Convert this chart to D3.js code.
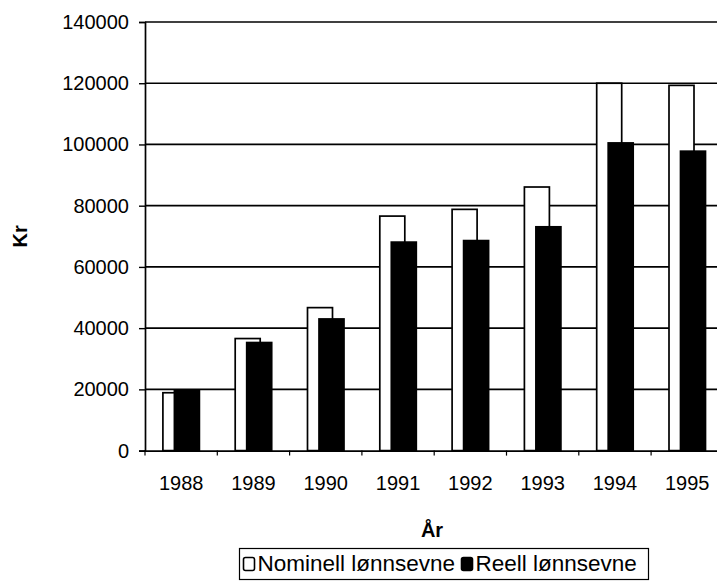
<!DOCTYPE html>
<html><head><meta charset="utf-8">
<script src="https://cdn.jsdelivr.net/npm/d3@7"></script>
<style>
html,body{margin:0;padding:0;background:#fff;}
svg{display:block;font-family:Arial,"Liberation Sans",sans-serif;}
</style></head>
<body><svg id="c" width="717" height="584"></svg>
<script>
const years = ["1988","1989","1990","1991","1992","1993","1994","1995"];
const nominell = [18900, 36600, 46700, 76600, 78800, 86100, 120000, 119300];
const reell = [19600, 35300, 43000, 68100, 68600, 73100, 100500, 97800];
const yTicks = [0,20000,40000,60000,80000,100000,120000,140000];
const seriesNames = ["Nominell lønnsevne","Reell lønnsevne"];

const svg = d3.select("#c");
const plotLeft = 145, plotTop = 22, plotBottom = 450.6, band = 72.3;
const FONT = "Arial,'Liberation Sans',sans-serif";
const x = d3.scaleBand().domain(years).range([plotLeft, plotLeft + band*years.length]).padding(0);
const y = d3.scaleLinear().domain([0,140000]).range([plotBottom, plotTop]);

// gridlines
svg.append("g").selectAll("line").data(yTicks.slice(1)).join("line")
  .attr("x1", plotLeft).attr("x2", 740)
  .attr("y1", d=>y(d)).attr("y2", d=>y(d))
  .attr("stroke","#000").attr("stroke-width",1.7);

// y axis
const yAxis = svg.append("g").attr("transform",`translate(${plotLeft},0)`)
  .call(d3.axisLeft(y).tickValues(yTicks).tickFormat(d3.format("d")).tickSize(6).tickPadding(10));
yAxis.select(".domain").attr("stroke-width",1.7);
yAxis.selectAll(".tick line").attr("stroke-width",1.4);
yAxis.selectAll("text").attr("font-size",20).attr("font-family",FONT).attr("fill","#000");

const bw = 25, off = 11.5, grp = bw + off;
const x0 = d => x(d) + (band - grp)/2;

// nominal bars (white)
svg.append("g").selectAll("rect").data(years).join("rect")
  .attr("x", d=>x0(d)).attr("width", bw)
  .attr("y", (d,i)=>y(nominell[i])).attr("height",(d,i)=>plotBottom - y(nominell[i]))
  .attr("fill","#fff").attr("stroke","#000").attr("stroke-width",1.7);
// real bars (black)
svg.append("g").selectAll("rect").data(years).join("rect")
  .attr("x", d=>x0(d)+off).attr("width", bw)
  .attr("y", (d,i)=>y(reell[i])).attr("height",(d,i)=>plotBottom - y(reell[i]))
  .attr("fill","#000").attr("stroke","#000").attr("stroke-width",1.7);

// x axis
const xAxis = svg.append("g").attr("transform",`translate(0,${plotBottom})`)
  .call(d3.axisBottom(x).tickSize(0).tickPadding(25));
xAxis.select(".domain").attr("stroke-width",1.7);
xAxis.selectAll("text").attr("font-size",20).attr("font-family",FONT).attr("fill","#000");
svg.append("g").selectAll("line").data(years).join("line")
  .attr("x1", d=>x(d)).attr("x2", d=>x(d))
  .attr("y1", plotBottom).attr("y2", plotBottom+5)
  .attr("stroke","#000").attr("stroke-width",1.2);

// axis titles
svg.append("text").attr("transform",`translate(27,${(plotTop+plotBottom)/2}) rotate(-90)`)
  .attr("text-anchor","middle").attr("font-size",20).attr("font-weight","bold").text("Kr");
svg.append("text").attr("x",432).attr("y",537)
  .attr("text-anchor","middle").attr("font-size",20).attr("font-weight","bold").text("År");

// legend
const lg = svg.append("g");
lg.append("rect").attr("x",239.5).attr("y",548.5).attr("width",409).attr("height",31)
  .attr("fill","#fff").attr("stroke","#000").attr("stroke-width",1.2);
const items = [{name:seriesNames[0],fill:"#fff",x:243.5},{name:seriesNames[1],fill:"#000",x:461.5}];
items.forEach(it=>{
  lg.append("rect").attr("x",it.x).attr("y",557.5).attr("width",11).attr("height",13)
    .attr("fill",it.fill).attr("stroke","#000").attr("stroke-width",1.6).attr("rx",2);
  lg.append("text").attr("x",it.x+14).attr("y",571).attr("font-size",22.5).attr("fill","#000").text(it.name);
});
</script></body></html>
